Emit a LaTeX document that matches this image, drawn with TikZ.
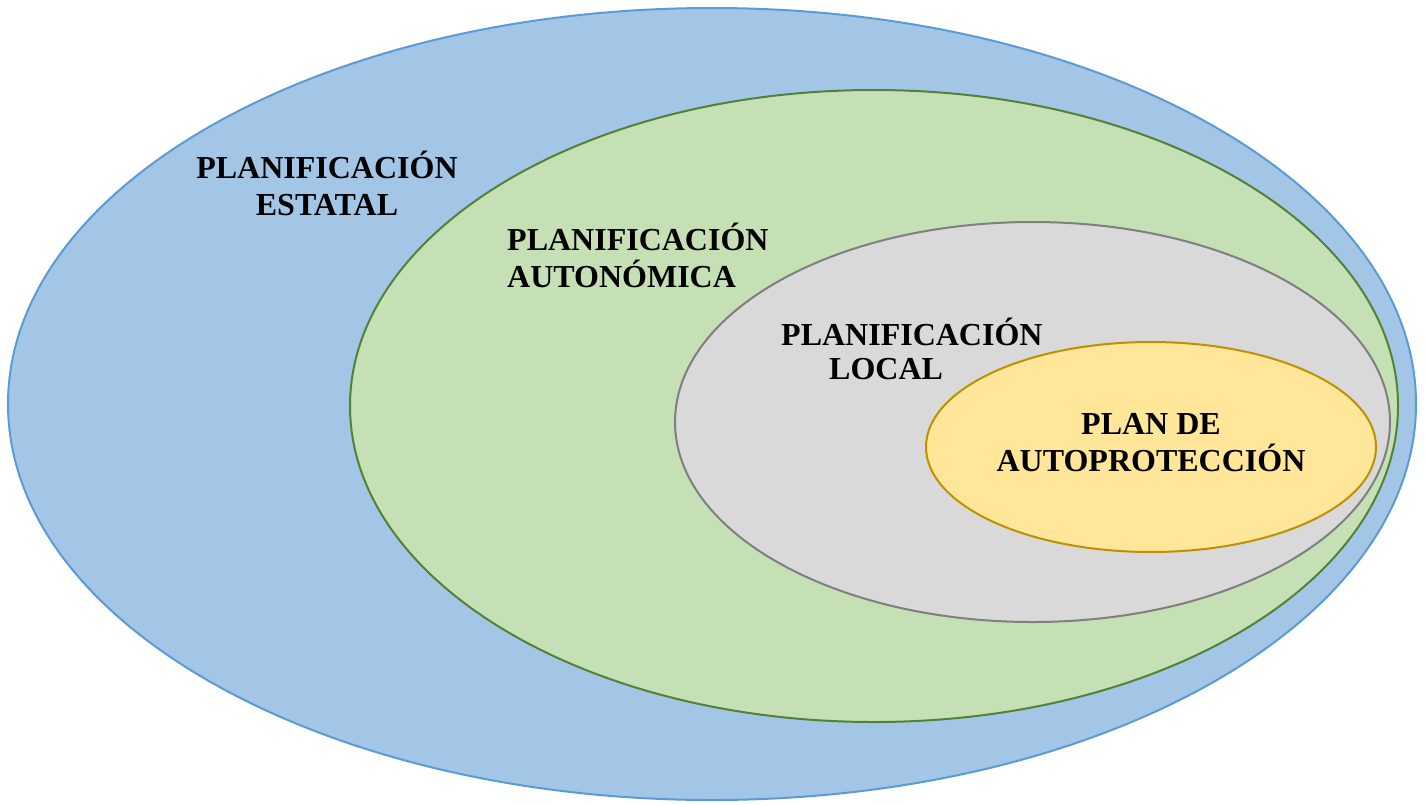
\documentclass[tikz,border=0pt]{standalone}
\usepackage{fontspec}
\setmainfont{Liberation Serif}
\usetikzlibrary{shapes.geometric}
\definecolor{bluefill}{HTML}{A3C6E7}
\definecolor{blueline}{HTML}{5B9BD5}
\definecolor{greenfill}{HTML}{C5E0B4}
\definecolor{greenline}{HTML}{538135}
\definecolor{grayfill}{HTML}{D9D9D9}
\definecolor{grayline}{HTML}{7F7F7F}
\definecolor{yellowfill}{HTML}{FFE699}
\definecolor{yellowline}{HTML}{BF9000}
\tikzset{
  oval/.style={ellipse, line width=2pt, inner sep=0pt, outer sep=0pt},
  lbl/.style={font=\fontsize{32}{37}\selectfont\bfseries, inner sep=0pt, anchor=base}
}
\begin{document}
\begin{tikzpicture}[x=1pt,y=-1pt]
\useasboundingbox (0,0) rectangle (1426,804);
\node[oval, draw=blueline, fill=bluefill, minimum width=1408pt, minimum height=792pt] (estatal) at (712,404) {};
\node[oval, draw=greenline, fill=greenfill, minimum width=1048pt, minimum height=632pt] (auton) at (874,406) {};
\node[oval, draw=grayline, fill=grayfill, minimum width=715pt, minimum height=400pt] (local) at (1032.5,422) {};
\node[oval, draw=yellowline, fill=yellowfill, minimum width=450pt, minimum height=210pt] (auto) at (1151,447) {};
\node[lbl, align=center] (t1) at (327,215) {PLANIFICACIÓN\\ESTATAL};
\node[lbl, align=left, anchor=base west] (t2) at (507,287) {PLANIFICACIÓN\\AUTONÓMICA};
\node[lbl, align=left, anchor=base west, font=\fontsize{32}{34}\selectfont\bfseries] (t3) at (781,379) {PLANIFICACIÓN\\\hspace*{48pt}LOCAL};
\node[lbl, align=center] (t4) at (1151,471) {PLAN DE\\AUTOPROTECCIÓN};
\end{tikzpicture}
\end{document}
